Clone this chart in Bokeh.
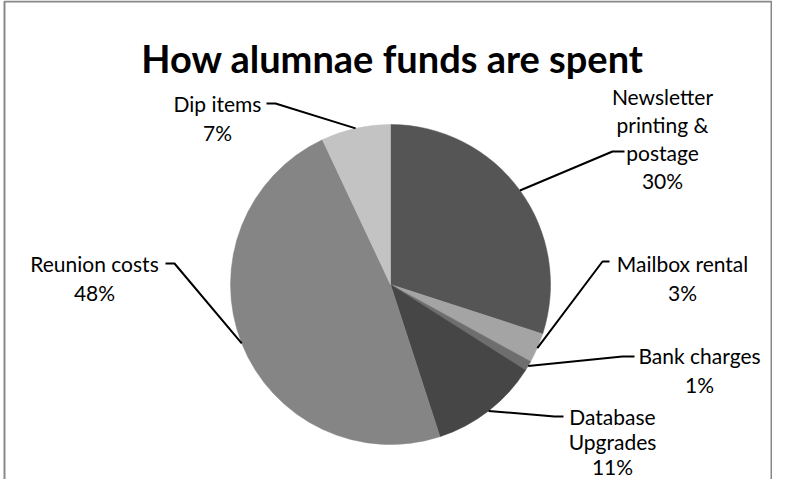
import math
from bokeh.plotting import figure
from bokeh.models import Range1d, ColumnDataSource
from bokeh.embed import file_html
from bokeh.resources import INLINE
from bokeh.core.properties import value

# ---- data ----
title_text = "How alumnae funds are spent"
categories = ["Newsletter printing & postage", "Mailbox rental", "Bank charges",
              "Database Upgrades", "Reunion costs", "Dip items"]
label_lines = [["Newsletter", "printing &", "postage"], ["Mailbox rental"], ["Bank charges"],
               ["Database", "Upgrades"], ["Reunion costs"], ["Dip items"]]
percents = [30, 3, 1, 11, 48, 7]
colors = ["#555555", "#a4a4a4", "#6e6e6e", "#464646", "#858585", "#c3c3c3"]

# ---- layout (screen pixel coordinates of the reference) ----
W, H = 772, 479
OX, OY = 8, 8
CX, CY, R = 398, 292, 160
label_anchor = [(670, 104), (690, 271), (707, 363), (620, 424), (102, 271), (225, 111)]
label_step = [28.0, 28.5, 29.0, 25.0, 28.5, 28.5]
label_elbow = [((620, 159), (632, 159)), ((610, 269), (617, 269)), ((630, 364), (642, 364)),
               ((562, 424), (571, 424)), ((182, 271), (173, 271)), ((283, 111), (274, 111))]
FONT = "Lato"


def dx(x):
    return x - OX


def dy(y):
    return (OY + H) - y


p = figure(width=W, height=H, x_range=Range1d(0, W), y_range=Range1d(0, H),
           min_border=0, toolbar_location=None, output_backend="svg",
           x_axis_type=None, y_axis_type=None)
p.grid.visible = False
p.outline_line_color = None
p.background_fill_color = "white"
p.border_fill_color = "white"

# chart border
p.line(x=[dx(12), dx(12), dx(779), dx(779)], y=[-5, dy(9), dy(9), -5],
       line_color="#888888", line_width=2)

# wedges
total = float(sum(percents))
starts, ends, mids = [], [], []
cum = 0.0
for v in percents:
    c0 = cum / total
    cum += v
    c1 = cum / total
    starts.append(math.pi / 2 - 2 * math.pi * c1)
    ends.append(math.pi / 2 - 2 * math.pi * c0)
    mids.append((c0 + c1) / 2)

src = ColumnDataSource(dict(x=[dx(CX)] * len(percents), y=[dy(CY)] * len(percents),
                            start=starts, end=ends, color=colors, cat=categories))
p.wedge(x="x", y="y", radius=R, start_angle="start", end_angle="end",
        fill_color="color", line_color="color", line_width=0.5, source=src)

# leader lines
xs, ys = [], []
for m, (elbow, end) in zip(mids, label_elbow):
    ang = 2 * math.pi * m
    ex = CX + R * math.sin(ang)
    ey = CY - R * math.cos(ang)
    xs.append([dx(ex), dx(elbow[0]), dx(end[0])])
    ys.append([dy(ey), dy(elbow[1]), dy(end[1])])
p.multi_line(xs=xs, ys=ys, line_color="black", line_width=2)

# labels
tx, ty, tt = [], [], []
for lines, v, (ax, ay), step in zip(label_lines, percents, label_anchor, label_step):
    all_lines = lines + ["%d%%" % v]
    for i, t in enumerate(all_lines):
        tx.append(dx(ax))
        ty.append(dy(ay + i * step))
        tt.append(t)
p.text(x=tx, y=ty, text=tt, text_font=value(FONT), text_font_size="21px",
       text_align="center", text_baseline="alphabetic", text_color="black")

# title
p.text(x=[dx(400)], y=[dy(65)], text=[title_text], text_font=value(FONT),
       text_font_size="38px", text_font_style="bold", text_align="center",
       text_baseline="alphabetic", text_color="black")

open("out.html", "w").write(file_html(p, INLINE))
